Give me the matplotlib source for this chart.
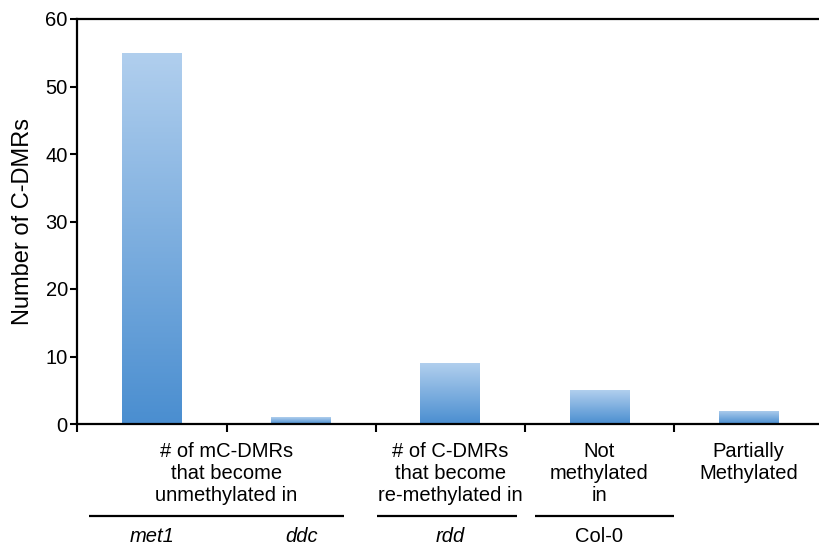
import numpy as np
import matplotlib
matplotlib.use("Agg")
import matplotlib.pyplot as plt
from matplotlib.colors import LinearSegmentedColormap

plt.rcParams['font.family'] = ['Liberation Sans', 'DejaVu Sans']

# Data
bar_names = ["met1", "ddc", "rdd", "Col-0", "partial"]
values = [55, 1, 9, 5, 2]
group_labels = ["# of mC-DMRs\nthat become\nunmethylated in",
                "# of C-DMRs\nthat become\nre-methylated in",
                "Not\nmethylated\nin",
                "Partially\nMethylated"]
group_centers = [0.5, 2.0, 3.0, 4.0]
sub_labels = ["met1", "ddc", "rdd", "Col-0"]
sub_positions = [0, 1, 2, 3]
underline_spans = [(-0.42, 1.29), (1.51, 2.45), (2.57, 3.50)]
y_ticks = [0, 10, 20, 30, 40, 50, 60]

W, H = 820, 551
fig = plt.figure(figsize=(W / 100, H / 100), dpi=100)
ax = fig.add_axes([77.5 / W, 1 - 424 / H, 745.5 / W, 405 / H])

x = np.arange(len(values))
width = 0.40
cmap = LinearSegmentedColormap.from_list("bg", ["#4a8ed0", "#b1cfee"])
grad = np.linspace(0, 1, 256).reshape(-1, 1)
bars = ax.bar(x, values, width=width, color="none", edgecolor="none", zorder=2)
for b in bars:
    x0, y0 = b.get_x(), b.get_y()
    w, h = b.get_width(), b.get_height()
    im = ax.imshow(grad, cmap=cmap, origin="lower", aspect="auto",
                   extent=[x0, x0 + w, y0, y0 + h], zorder=2)
    im.set_clip_path(b)

ax.set_xlim(-0.5, 4.5)
ax.set_ylim(0, 60)
ax.set_yticks(y_ticks)
ax.set_xticks([-0.5, 0.5, 1.5, 2.5, 3.5])
ax.set_xticklabels([])
ax.tick_params(axis="y", direction="out", length=5, width=1.5, labelsize=14.5, pad=2)
ax.tick_params(axis="x", direction="out", length=6, width=1.5)
for s in ["left", "bottom", "top"]:
    ax.spines[s].set_linewidth(1.6)
    ax.spines[s].set_color("black")
ax.spines["right"].set_visible(False)
ax.set_ylabel("Number of C-DMRs", fontsize=17, labelpad=8)

# Group labels below axis
trans = ax.get_xaxis_transform()
def ypx(p):
    return (424 - p) / 405.0

for cx, lab in zip(group_centers, group_labels):
    ax.text(cx, ypx(442), lab, transform=trans, ha="center", va="top",
            fontsize=14.5, linespacing=1.2, clip_on=False)

for (a, b2) in underline_spans:
    ax.plot([a, b2], [ypx(516), ypx(516)], transform=trans, color="black",
            lw=1.6, clip_on=False, solid_capstyle="butt")

for sx, lab in zip(sub_positions, sub_labels):
    style = "normal" if lab == "Col-0" else "italic"
    ax.text(sx, ypx(536), lab, transform=trans, ha="center", va="center",
            fontsize=14.5, style=style, clip_on=False)

fig.savefig("out.png", dpi=100)
